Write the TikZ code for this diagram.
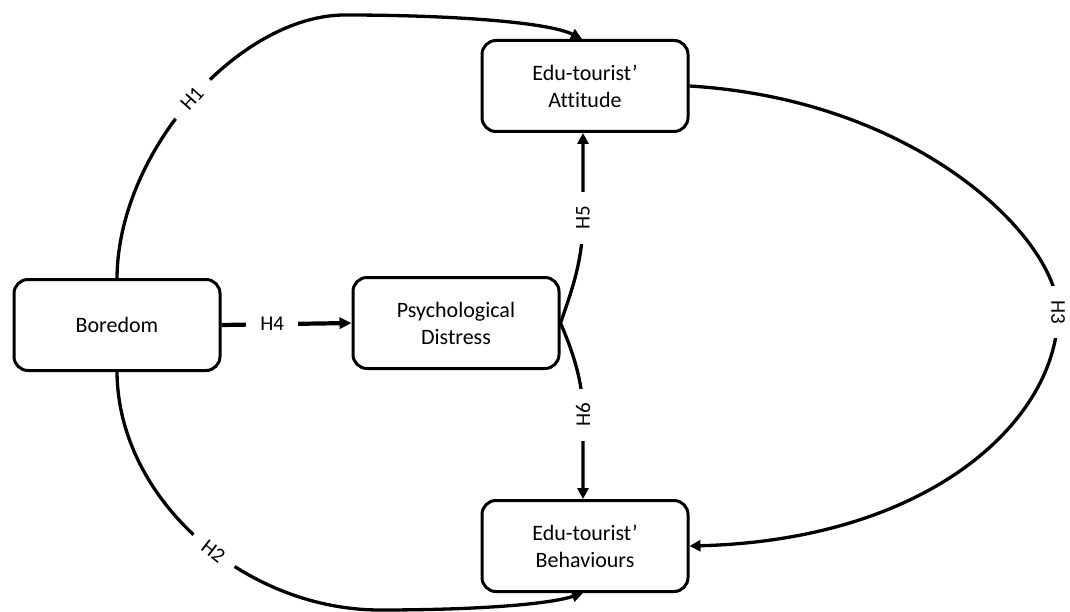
\documentclass[tikz,border=0pt]{standalone}
\usepackage{fontspec}
\setmainfont{Carlito}[Ligatures=NoCommon]
\usetikzlibrary{arrows.meta}
\begin{document}
\begin{tikzpicture}[x=1pt,y=-1pt,
  box/.style={draw, line width=3pt, rounded corners=14pt, minimum width=206pt, minimum height=91pt, align=center, font=\fontsize{22}{27}\selectfont},
  conn/.style={line width=3.3pt, -{Triangle[length=11pt,width=11pt]}},
  thick conn/.style={line width=4.2pt, -{Triangle[length=12pt,width=11pt]}},
  lbl/.style={fill=white, inner xsep=14pt, inner ysep=1pt, font=\fontsize{21}{24}\selectfont}]
\useasboundingbox (0,0) rectangle (1070,612);
\node[box] (bor) at (117,325) {Boredom};
\node[box] (psy) at (456,323) {Psychological\\Distress};
\node[box] (att) at (585,86) {Edu-tourist’\\Attitude};
\node[box] (beh) at (585,546) {Edu-tourist’\\Behaviours};
% H1
\draw[conn] (bor.north) .. controls (118,150) and (240,15) .. (345,15) node[lbl,pos=0.5,sloped] (h1) {H1}
  .. controls (450,15) and (548,22) .. ([xshift=-3pt]att.north);
% H2
\draw[conn] (bor.south) .. controls (118,500) and (245,610) .. (380,610) node[lbl,pos=0.55,sloped] (h2) {H2}
  .. controls (480,610) and (550,604) .. ([xshift=-2pt]beh.south);
% H3
\draw[conn] (att.east) .. controls (920,100) and (1058,240) .. (1058,312) node[lbl,rotate=-90] (h3) {H3}
  .. controls (1058,420) and (930,540) .. (beh.east);
% H4
\draw[thick conn] (bor.east) -- node[lbl,pos=0.39] (h4) {H4} (psy.west);
% H5
\draw[conn] (psy.east) .. controls (572,290) and (583,260) .. (583,218) node[lbl,rotate=90] (h5) {H5}
  -- ([xshift=-2pt]att.south);
% H6
\draw[conn] (psy.east) .. controls (572,350) and (583,380) .. (583,415) node[lbl,rotate=90] (h6) {H6}
  -- ([xshift=-2pt]beh.north);
\end{tikzpicture}
\end{document}
